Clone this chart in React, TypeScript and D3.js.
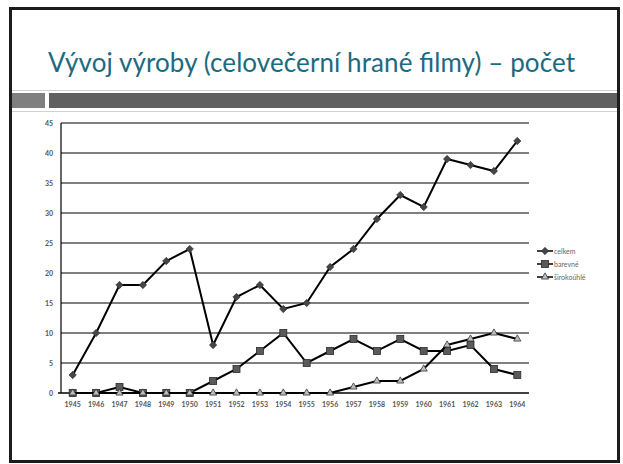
import React from "react";
import * as d3 from "d3";

const years = ["1945", "1946", "1947", "1948", "1949", "1950", "1951", "1952", "1953", "1954", "1955", "1956", "1957", "1958", "1959", "1960", "1961", "1962", "1963", "1964"];
const celkem = [3, 10, 18, 18, 22, 24, 8, 16, 18, 14, 15, 21, 24, 29, 33, 31, 39, 38, 37, 42];
const barevne = [0, 0, 1, 0, 0, 0, 2, 4, 7, 10, 5, 7, 9, 7, 9, 7, 7, 8, 4, 3];
const sirokouhle = [0, 0, 0, 0, 0, 0, 0, 0, 0, 0, 0, 0, 1, 2, 2, 4, 8, 9, 10, 9];
const yTicks = [0, 5, 10, 15, 20, 25, 30, 35, 40, 45];

const series = [
  { name: "celkem", values: celkem, marker: "diamond" },
  { name: "barevné", values: barevne, marker: "square" },
  { name: "širokoúhlé", values: sirokouhle, marker: "triangle" },
];

const W = 623;
const H = 464;
const plot = { left: 61, right: 529, top: 123, bottom: 393 };
const tickFont = "Lato, 'DejaVu Sans', sans-serif";

function Marker({ type, x, y }: { type: string; x: number; y: number }) {
  if (type === "diamond") {
    // rotated square, like the spreadsheet's diamond marker
    return <rect x={-2.6} y={-2.6} width={5.2} height={5.2} transform={`translate(${x},${y}) rotate(45)`} fill="#454545" stroke="#333" strokeWidth={0.6} />;
  }
  if (type === "square") {
    return <rect x={x - 3.5} y={y - 3.5} width={7} height={7} fill="#5a5a5a" stroke="#2a2a2a" strokeWidth={0.8} />;
  }
  return <path d={d3.symbol(d3.symbolTriangle, 22)()!} transform={`translate(${x},${y})`} fill="#bdbdbd" stroke="#333" strokeWidth={0.8} />;
}

export default function App() {
  const x = d3.scaleBand().domain(years).range([plot.left, plot.right]);
  const y = d3.scaleLinear().domain([0, 45]).range([plot.bottom, plot.top]);
  const cx = (yr: string) => (x(yr) as number) + x.bandwidth() / 2;

  const line = d3
    .line<number>()
    .x((_, i) => cx(years[i]))
    .y((d) => y(d));

  return (
    <div style={{ position: "absolute", left: 0, top: 0 }}>
      <svg width={W} height={H} style={{ display: "block" }}>
        <rect x={0} y={0} width={W} height={H} fill="#fff" />
        <rect x={10.5} y={8.5} width={608} height={453} fill="#fff" stroke="#1c1c1c" strokeWidth={3} />
        <text x={48} y={72} fill="#1d6a80" fontFamily="Lato, 'Open Sans', sans-serif" fontSize={26} textLength={527} lengthAdjust="spacing">
          Vývoj výroby (celovečerní hrané filmy) – počet
        </text>
        <line x1={12} x2={617} y1={90.5} y2={90.5} stroke="#d0d0d0" strokeWidth={1} />
        <rect x={12} y={93} width={33} height={15} fill="#808080" />
        <rect x={49} y={93} width={568} height={15} fill="#606060" />
        <line x1={12} x2={617} y1={111.5} y2={111.5} stroke="#d0d0d0" strokeWidth={1} />

        {yTicks.map((t) => (
          <g key={t}>
            {t > 0 && <line x1={plot.left} x2={plot.right} y1={y(t)} y2={y(t)} stroke="#000" strokeWidth={1.2} />}
            <text x={53} y={y(t) + 2.5} textAnchor="end" fontFamily={tickFont} fontSize={7} fontWeight="bold" fill="#555">
              {t}
            </text>
          </g>
        ))}
        <line x1={plot.left} x2={plot.left} y1={plot.top} y2={plot.bottom} stroke="#000" strokeWidth={1.2} />
        <line x1={plot.left - 3} x2={plot.right} y1={plot.bottom} y2={plot.bottom} stroke="#000" strokeWidth={1.5} />
        {years.map((yr) => (
          <text key={yr} x={cx(yr)} y={407} textAnchor="middle" fontFamily={tickFont} fontSize={7} fontWeight="bold" fill="#555">
            {yr}
          </text>
        ))}

        {series.map((s) => (
          <g key={s.name}>
            <path d={line(s.values)!} fill="none" stroke="#000" strokeWidth={2} />
            {s.values.map((v, i) => (
              <Marker key={i} type={s.marker} x={cx(years[i])} y={y(v)} />
            ))}
          </g>
        ))}

        {series.map((s, i) => {
          const ly = 251 + i * 13;
          return (
            <g key={s.name}>
              <line x1={537} x2={553} y1={ly} y2={ly} stroke="#000" strokeWidth={1.5} />
              <Marker type={s.marker} x={545} y={ly} />
              <text x={554} y={ly + 2.5} fontFamily={tickFont} fontSize={7} fill="#666">
                {s.name}
              </text>
            </g>
          );
        })}
      </svg>
    </div>
  );
}
